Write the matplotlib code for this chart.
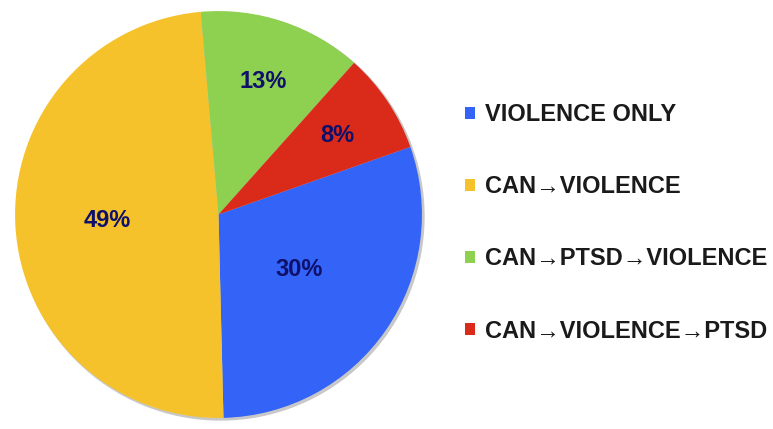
import matplotlib
matplotlib.use("Agg")
import matplotlib.pyplot as plt
import numpy as np

plt.rcParams['font.family'] = ['Liberation Sans', 'DejaVu Sans']

categories = ["VIOLENCE ONLY", "CAN\u2192VIOLENCE", "CAN\u2192PTSD\u2192VIOLENCE", "CAN\u2192VIOLENCE\u2192PTSD"]
shares = [30, 49, 13, 8]
colours = ["#3463F8", "#F6C22B", "#8ED04F", "#D92A1A"]
label_r = [0.48, 0.55, 0.69, 0.70]

fig = plt.figure(figsize=(7.73, 4.29), dpi=100)
ax = fig.add_axes([11 / 773, 5 / 429, 415 / 773, 419 / 429])

# soft shadow behind the pie
ax.add_patch(plt.Circle((0.01, -0.01), 1.0, color="#c8c8c8", zorder=0))

wedges, _ = ax.pie(shares, colors=colours, startangle=19.4, counterclock=False,
                   radius=1.0, wedgeprops=dict(linewidth=0))

for w, v, r in zip(wedges, shares, label_r):
    ang = np.deg2rad((w.theta1 + w.theta2) / 2)
    ax.text(r * np.cos(ang), r * np.sin(ang), f"{v}%", ha="center", va="center",
            fontsize=17, fontweight="bold", color="#0E106A")

ax.set_xlim(-1.02, 1.02)
ax.set_ylim(-1.02, 1.02)
ax.set_aspect("equal")
ax.axis("off")

leg = fig.legend(wedges, categories, loc="upper left", bbox_to_anchor=(444 / 773, 1 - 82 / 429),
                 frameon=False, handlelength=0.4, handleheight=0.4, handletextpad=0.45,
                 labelspacing=2.08, prop=dict(size=17, weight="bold"))
for t in leg.get_texts():
    t.set_color("#1a1a1a")

fig.savefig("out.png", dpi=100)
